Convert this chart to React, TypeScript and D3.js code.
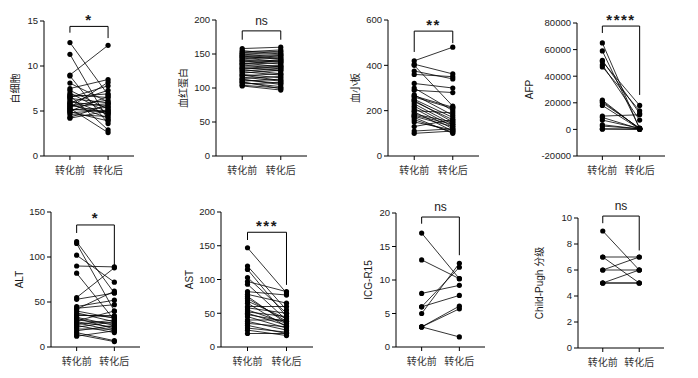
import React from 'react';
import * as d3 from 'd3';

const groups = ['转化前', '转化后'];

const wbcBefore = [12.6, 11.3, 9.0, 8.9, 8.1, 7.5, 7.3, 7.0, 6.8, 6.7, 6.5, 6.4, 6.2, 6.0, 5.9, 5.8, 5.6, 5.5, 5.4, 5.3, 5.2, 5.1, 5.0, 4.9, 4.8, 4.6, 4.3, 4.2, 6.6, 5.7];
const wbcAfter = [6.8, 4.0, 12.3, 3.6, 6.0, 8.5, 5.2, 4.8, 6.5, 2.9, 7.8, 5.9, 4.6, 5.5, 7.3, 4.2, 6.2, 5.8, 8.2, 2.6, 4.9, 5.4, 6.6, 3.9, 5.1, 4.4, 5.7, 5.0, 6.9, 4.7];

const hbBefore = [158, 155, 152, 150, 148, 147, 145, 144, 142, 140, 139, 137, 135, 134, 132, 130, 129, 127, 125, 124, 122, 120, 118, 116, 114, 112, 110, 108, 106, 104, 103, 150, 141, 128, 119, 136, 146, 153, 113, 109];
const hbAfter = [160, 150, 154, 145, 149, 142, 148, 139, 146, 135, 141, 131, 137, 128, 133, 125, 132, 121, 128, 119, 126, 115, 121, 110, 117, 107, 113, 102, 108, 100, 97, 152, 138, 130, 111, 140, 143, 156, 105, 99];

const pltBefore = [420, 405, 400, 375, 360, 320, 300, 290, 270, 260, 250, 245, 240, 230, 220, 210, 200, 195, 185, 175, 170, 160, 150, 130, 110, 100, 265, 180];
const pltAfter = [480, 362, 220, 340, 350, 300, 200, 280, 180, 210, 170, 150, 160, 140, 130, 120, 190, 110, 150, 130, 100, 105, 115, 160, 120, 110, 215, 140];

const afpBefore = [65000, 59000, 52000, 51000, 48500, 47000, 22000, 21000, 20000, 18000, 10000, 9000, 7000, 3500, 2500, 500, 200];
const afpAfter = [500, 800, 12000, 18000, 7000, 14000, 200, 600, 1000, 300, 11000, 400, 800, 300, 500, 100, 100];

const altBefore = [117, 115, 102, 90, 82, 55, 53, 45, 43, 40, 38, 35, 33, 32, 30, 28, 27, 25, 24, 22, 20, 18, 16, 14, 12, 42, 36, 29];
const altAfter = [60, 40, 72, 89, 30, 88, 60, 52, 47, 32, 28, 35, 24, 20, 26, 22, 18, 30, 16, 28, 20, 24, 7, 6, 18, 62, 33, 40];

const astBefore = [147, 120, 115, 103, 97, 93, 82, 78, 72, 68, 65, 60, 55, 52, 50, 45, 40, 38, 35, 32, 28, 25, 20, 75, 58, 48];
const astAfter = [80, 55, 45, 50, 82, 40, 77, 65, 38, 42, 30, 60, 35, 45, 32, 28, 40, 25, 30, 20, 22, 17, 20, 35, 50, 38];

const icgBefore = [17, 13, 8, 6, 6, 5, 3, 3, 3];
const icgAfter = [10.2, 10.2, 9.2, 11.9, 7.7, 12.5, 6.1, 5.7, 1.5];

const cpBefore = [9, 7, 7, 6, 6, 5, 5, 5];
const cpAfter = [6, 7, 5, 6, 7, 5, 6, 5];

const panels = [
  { label: '白细胞', before: wbcBefore, after: wbcAfter, domain: [0, 15], ticks: [0, 5, 10, 15], sig: '*', bracket: [14.4, 13.7, 13.1] },
  { label: '血红蛋白', before: hbBefore, after: hbAfter, domain: [0, 200], ticks: [0, 50, 100, 150, 200], sig: 'ns', bracket: [184, 171, 171] },
  { label: '血小板', before: pltBefore, after: pltAfter, domain: [0, 600], ticks: [0, 200, 400, 600], sig: '**', bracket: [551, 459, 498] },
  { label: 'AFP', before: afpBefore, after: afpAfter, domain: [-20000, 80000], ticks: [-20000, 0, 20000, 40000, 60000, 80000], sig: '****', bracket: [77700, 72500, 25900] },
  { label: 'ALT', before: altBefore, after: altAfter, domain: [0, 150], ticks: [0, 50, 100, 150], sig: '*', bracket: [135.6, 126.7, 89] },
  { label: 'AST', before: astBefore, after: astAfter, domain: [0, 200], ticks: [0, 50, 100, 150, 200], sig: '***', bracket: [170, 158.5, 92] },
  { label: 'ICG-R15', before: icgBefore, after: icgAfter, domain: [0, 20], ticks: [0, 5, 10, 15, 20], sig: 'ns', bracket: [19.4, 18.4, 13.7] },
  { label: 'Child-Pugh 分级', before: cpBefore, after: cpAfter, domain: [0, 10], ticks: [0, 2, 4, 6, 8, 10], sig: 'ns', bracket: [10.15, 9.6, 7.5] },
];

const frames = [
  { x0: 44, x1: 134, yTop: 21, yBot: 156, labelX: 15 },
  { x0: 216, x1: 307, yTop: 20, yBot: 156, labelX: 183 },
  { x0: 388, x1: 479, yTop: 20, yBot: 156, labelX: 355 },
  { x0: 577, x1: 665, yTop: 23, yBot: 156, labelX: 529 },
  { x0: 51, x1: 140, yTop: 212, yBot: 347, labelX: 19 },
  { x0: 221, x1: 313, yTop: 212, yBot: 347, labelX: 189 },
  { x0: 396, x1: 485, yTop: 213, yBot: 347, labelX: 368 },
  { x0: 578, x1: 664, yTop: 218, yBot: 348, labelX: 539 },
];

const FONT = '"Liberation Sans", Arial, "Noto Sans CJK SC", sans-serif';
const CJK = '"Noto Sans CJK SC", "Liberation Sans", sans-serif';

function Panel({ p, f }: { p: any; f: any }) {
  const y = d3.scaleLinear().domain(p.domain).range([f.yBot, f.yTop]);
  const x = d3.scalePoint<string>().domain(groups).range([f.x0, f.x1]).padding(0.68);
  const xb = x(groups[0])!;
  const xa = x(groups[1])!;
  const line = d3.line<[number, number]>().x(d => d[0]).y(d => d[1]);
  const [bt, bl, br] = p.bracket;
  const isNs = p.sig === 'ns';
  const sigY = y(bt) - (isNs ? 6 : 1.5);
  return (
    <g>
      {p.before.map((b: number, i: number) => (
        <path key={'l' + i} d={line([[xb, y(b)], [xa, y(p.after[i])]])!} stroke="#000" strokeWidth={0.8} fill="none" />
      ))}
      {p.before.map((b: number, i: number) => (
        <circle key={'b' + i} cx={xb} cy={y(b)} r={2.6} fill="#000" />
      ))}
      {p.after.map((a: number, i: number) => (
        <circle key={'a' + i} cx={xa} cy={y(a)} r={2.6} fill="#000" />
      ))}
      <line x1={f.x0} x2={f.x0} y1={f.yTop} y2={f.yBot} stroke="#000" strokeWidth={1} />
      <line x1={f.x0} x2={f.x1} y1={f.yBot} y2={f.yBot} stroke="#000" strokeWidth={1} />
      {p.ticks.map((t: number) => (
        <g key={'t' + t}>
          <line x1={f.x0 - 4} x2={f.x0} y1={y(t)} y2={y(t)} stroke="#000" strokeWidth={1} />
          <text x={f.x0 - 6} y={y(t)} dy="0.35em" textAnchor="end" fontSize={9.5} fontFamily={FONT} fill="#222">{t}</text>
        </g>
      ))}
      {groups.map(g => (
        <g key={g}>
          <line x1={x(g)} x2={x(g)} y1={f.yBot} y2={f.yBot + 4} stroke="#000" strokeWidth={1} />
          <text x={x(g)} y={f.yBot + 18} textAnchor="middle" fontSize={10} fontFamily={CJK} fill="#333">{g}</text>
        </g>
      ))}
      <text transform={`translate(${f.labelX},${(f.yTop + f.yBot) / 2}) rotate(-90)`} textAnchor="middle" dy="0.35em" fontSize={10} fontFamily={FONT} fill="#1a1a1a">{p.label}</text>
      <path d={`M${xb},${y(bl)}V${y(bt)}H${xa}V${y(br)}`} fill="none" stroke="#000" strokeWidth={1} />
      <text x={(xb + xa) / 2} y={sigY} textAnchor="middle" fontSize={isNs ? 12 : 15} fontWeight={isNs ? 'normal' : 'bold'} letterSpacing={isNs ? 0 : 1.5} fontFamily={FONT} fill="#1a1a1a">{p.sig}</text>
    </g>
  );
}

export default function App() {
  return (
    <svg width={698} height={378} style={{ position: 'absolute', left: 0, top: 0, background: '#fff' }}>
      <rect width={698} height={378} fill="#fff" />
      {panels.map((p, i) => <Panel key={i} p={p} f={frames[i]} />)}
    </svg>
  );
}
